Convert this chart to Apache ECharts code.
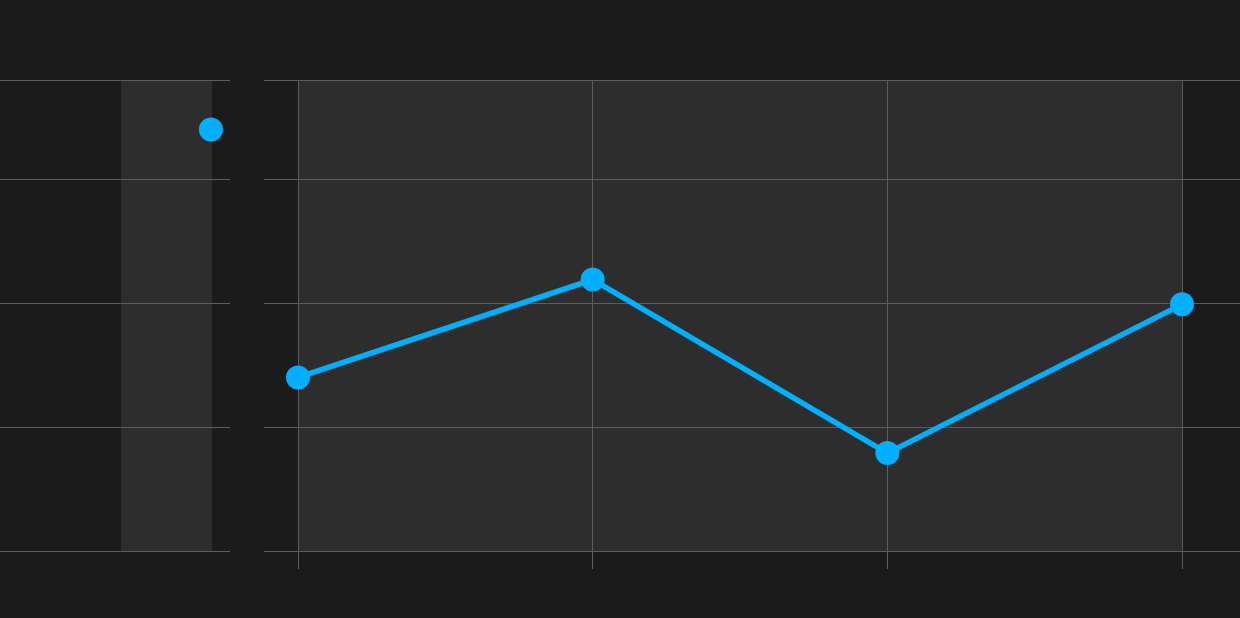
<!DOCTYPE html>
<html>
<head>
<meta charset="utf-8">
<script src="https://cdn.jsdelivr.net/npm/echarts@6/dist/echarts.min.js"></script>
<style>
  html, body { margin: 0; padding: 0; background: #1b1b1b; }
  #chart { width: 1240px; height: 618px; }
</style>
</head>
<body>
<div id="chart"></div>
<script>
// ---- data ----
const mainX = [0, 1, 2, 3];
const mainValues = [14.0, 21.9, 7.9, 19.9];
const sideX = [0.917];
const sideValues = [34.0];
const sideShade = [0.526, 0.922];
const mainShade = [0, 3];
const yMin = 0, yMax = 38, yInterval = 10;
const mainXRange = [-0.1154, 3.1968];
const sideXRange = [0, 1];

const gridColor = '#5c5c5c';
const lineColor = '#00b0ff';
const shadeColor = '#2d2d2d';

function yAxisCfg(gridIndex) {
  return {
    type: 'value', gridIndex, min: yMin, max: yMax, interval: yInterval, z: 1,
    axisLine: { show: false }, axisTick: { show: false }, axisLabel: { show: false },
    splitLine: { show: true, lineStyle: { color: gridColor, width: 1 } }
  };
}

const chart = echarts.init(document.getElementById('chart'), null, { renderer: 'canvas' });
chart.setOption({
  backgroundColor: '#1b1b1b',
  animation: false,
  grid: [
    { left: 0, width: 230, top: 80, bottom: 67, containLabel: false },
    { left: 264, right: 0, top: 80, bottom: 67, containLabel: false }
  ],
  xAxis: [
    {
      type: 'value', gridIndex: 0, min: sideXRange[0], max: sideXRange[1], z: 1,
      axisLine: { show: false }, axisTick: { show: false }, axisLabel: { show: false },
      splitLine: { show: false }
    },
    {
      type: 'value', gridIndex: 1, min: mainXRange[0], max: mainXRange[1], z: 1,
      axisLine: { show: false },
      axisTick: { show: true, customValues: mainX, length: 18, lineStyle: { color: gridColor, width: 1 } },
      axisLabel: { show: false, customValues: mainX },
      splitLine: { show: true, customValues: mainX, lineStyle: { color: gridColor, width: 1 } }
    }
  ],
  yAxis: [yAxisCfg(0), yAxisCfg(1)],
  series: [
    {
      type: 'scatter', xAxisIndex: 0, yAxisIndex: 0,
      data: sideX.map((x, i) => [x, sideValues[i]]),
      symbolSize: 24, itemStyle: { color: lineColor, opacity: 1 },
      markArea: {
        silent: true, z: 0,
        itemStyle: { color: shadeColor },
        data: [[{ xAxis: sideShade[0] }, { xAxis: sideShade[1] }]]
      }
    },
    {
      type: 'line', xAxisIndex: 1, yAxisIndex: 1,
      data: mainX.map((x, i) => [x, mainValues[i]]),
      symbol: 'circle', symbolSize: 24,
      lineStyle: { color: lineColor, width: 5.5 },
      itemStyle: { color: lineColor, opacity: 1 },
      markArea: {
        silent: true, z: 0,
        itemStyle: { color: shadeColor },
        data: [[{ xAxis: mainShade[0] }, { xAxis: mainShade[1] }]]
      }
    }
  ]
});
</script>
</body>
</html>
